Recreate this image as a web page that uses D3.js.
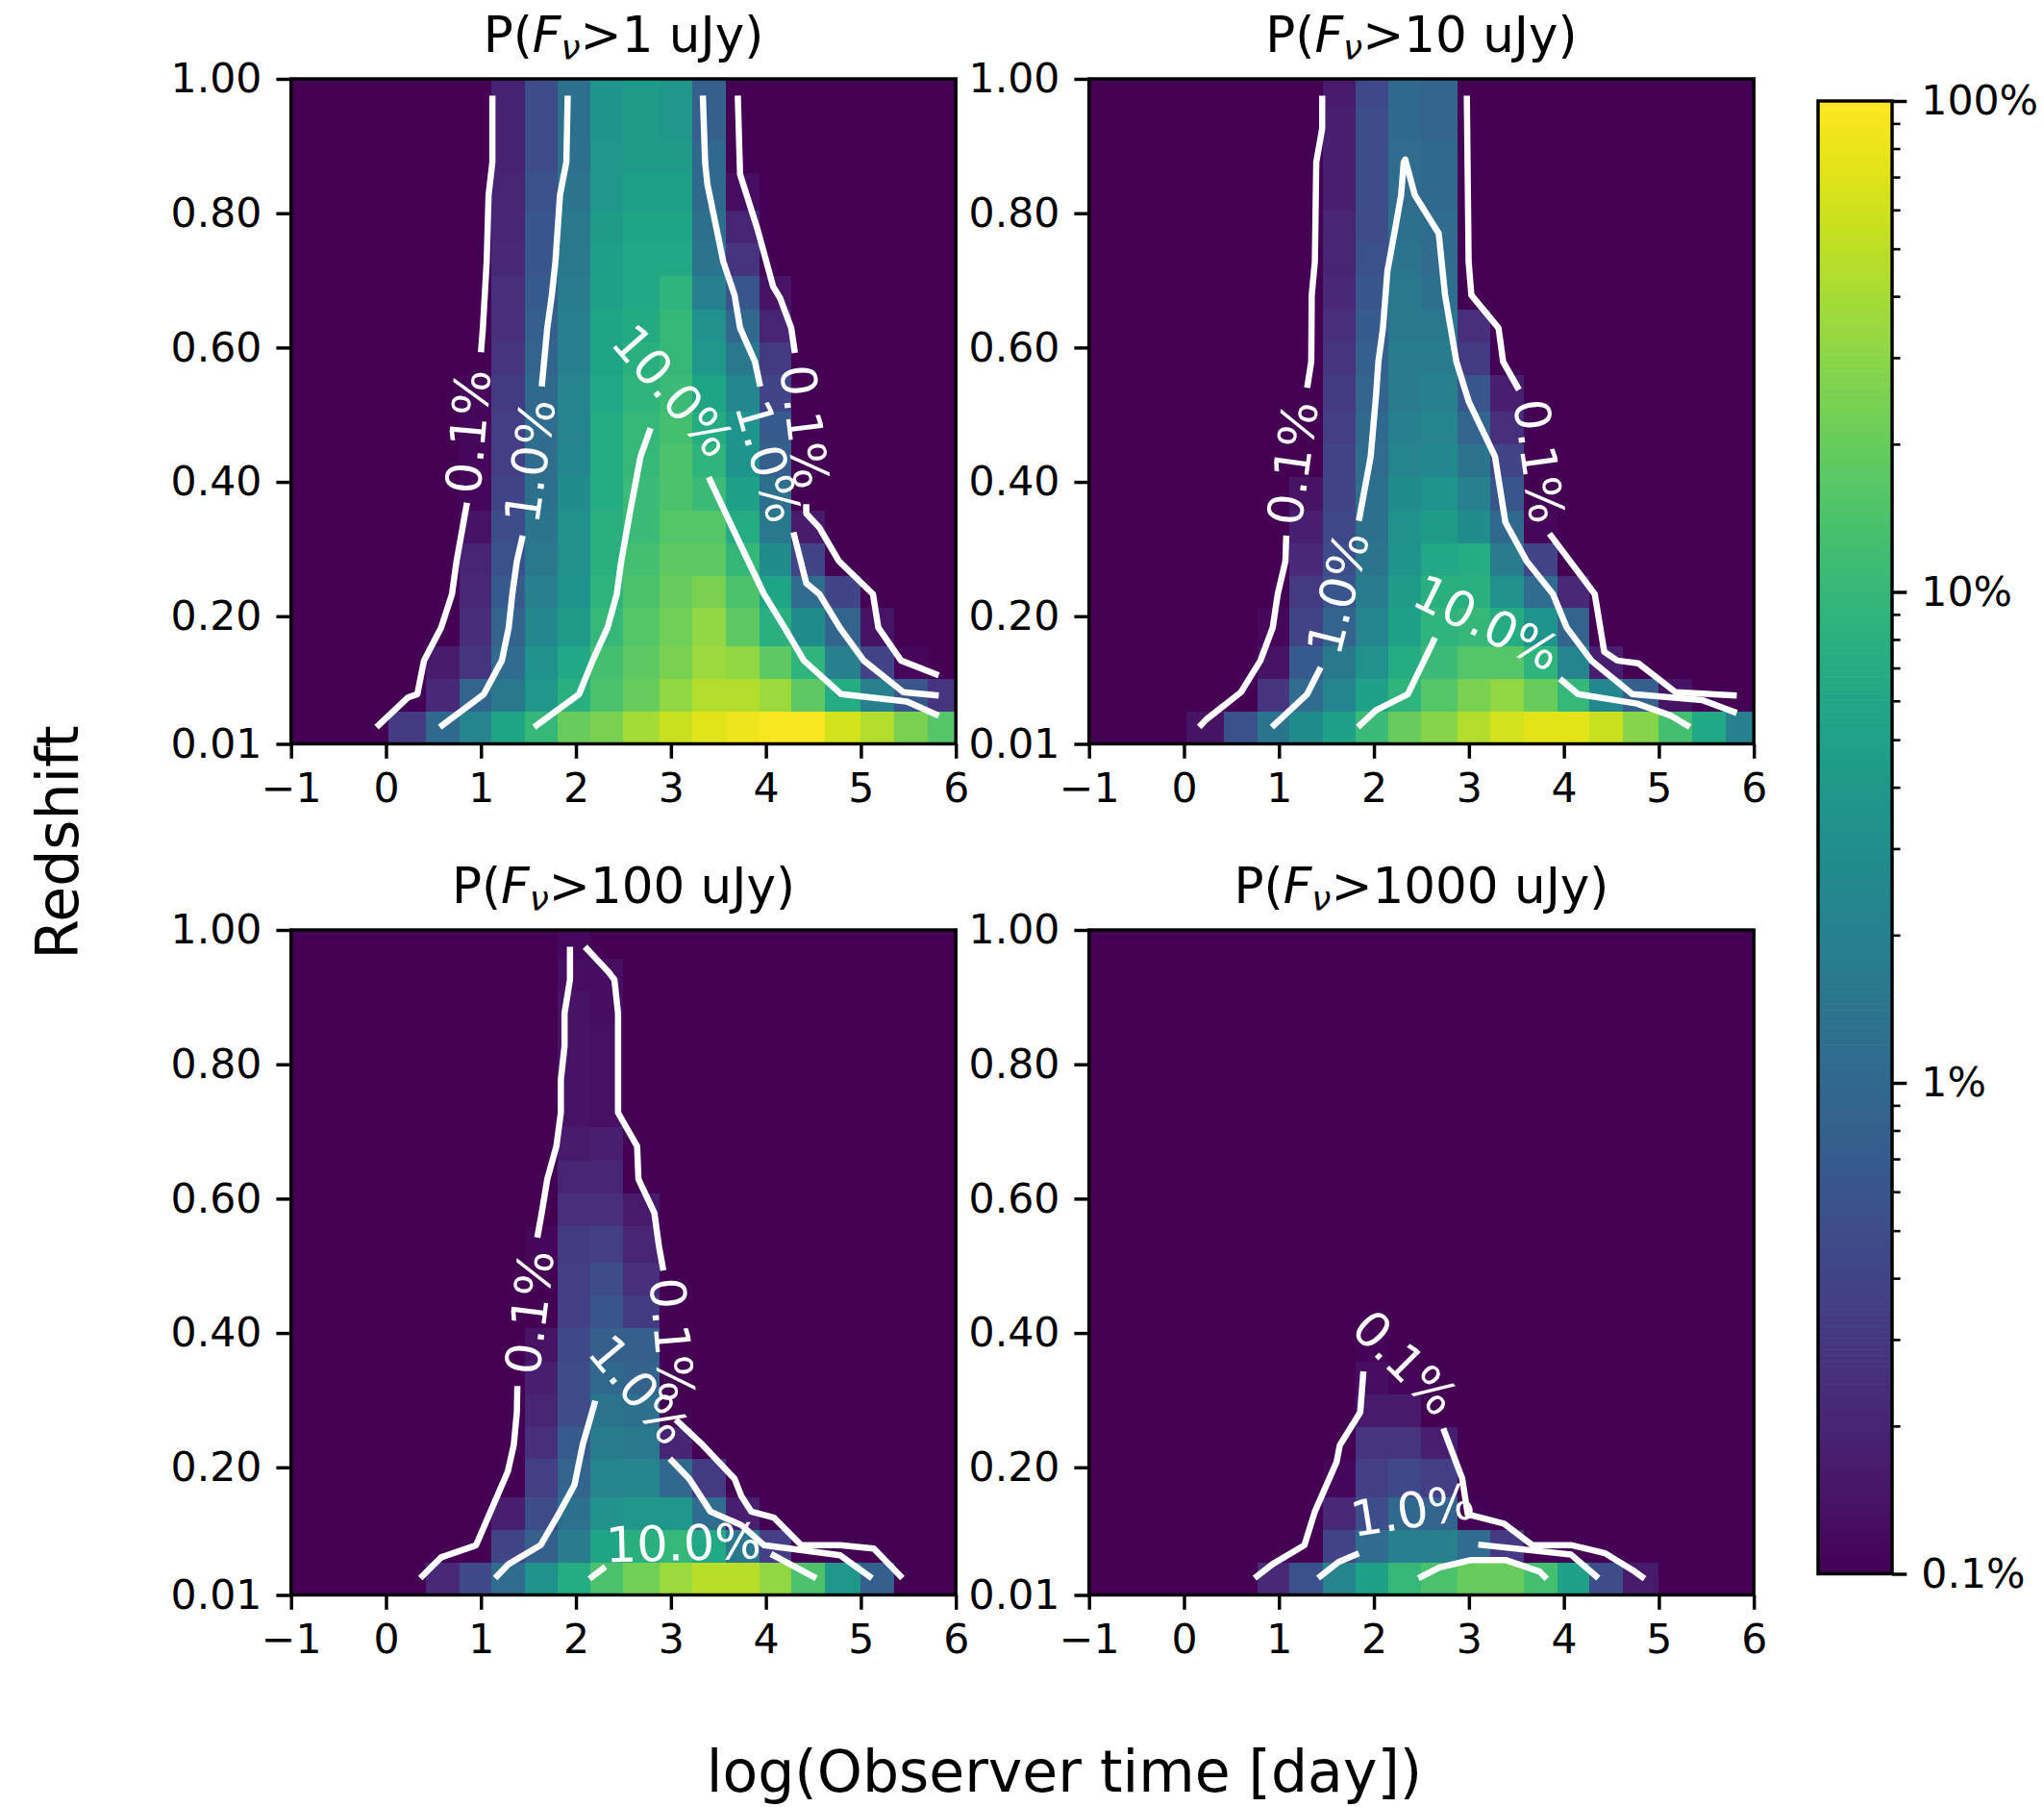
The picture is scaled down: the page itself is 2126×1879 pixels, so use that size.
<!DOCTYPE html>
<html>
<head>
<meta charset="utf-8">
<script src="https://cdn.jsdelivr.net/npm/d3@7"></script>
<style>
html, body { margin: 0; padding: 0; background: #fff; }
text { font-family: "DejaVu Sans", sans-serif; }
</style>
</head>
<body>
<svg width="2126" height="1879"></svg>
<script>
// bin edges of the grid, log time and redshift
var xEdges = [-1, -0.65, -0.3, 0.03, 0.42, 0.77, 1.11, 1.46, 1.81, 2.155, 2.5, 2.88, 3.225, 3.58, 3.93, 4.27, 4.62, 5.0, 5.35, 5.7, 6];
var zEdges = [0.01, 0.058, 0.107, 0.156, 0.212, 0.26, 0.308, 0.357, 0.407, 0.456, 0.505, 0.559, 0.608, 0.657, 0.706, 0.755, 0.804, 0.859, 0.908, 0.957, 1];

var fluxes = [1, 10, 100, 1000];
var xTicks = [-1, 0, 1, 2, 3, 4, 5, 6];
var zTicks = [0.01, 0.2, 0.4, 0.6, 0.8, 1];
var cbarTicks = [0.1, 1, 10, 100];

// log10 of probability in percent, bottom row first
// each row: first column index, then the values from that column on
var gridA = [
  [3, -0.5, 0, 0.35, 0.75, 1.0, 1.3, 1.4, 1.6, 1.75, 1.85, 1.92, 1.97, 1.97, 1.8, 1.65, 1.4, 1.2],
  [4, -0.65, -0.05, 0.2, 0.6, 0.9, 1.15, 1.3, 1.5, 1.65, 1.65, 1.55, 1.25, 0.85, 0.3, -0.2, -0.55],
  [4, -0.8, -0.55, 0.05, 0.5, 0.8, 1.1, 1.25, 1.4, 1.55, 1.5, 1.25, 0.95, 0.3, -0.4, -0.95],
  [5, -0.62, -0.05, 0.4, 0.65, 1.0, 1.2, 1.35, 1.5, 1.25, 0.9, 0.45, -0.05, -0.85],
  [5, -0.65, -0.15, 0.3, 0.55, 0.95, 1.15, 1.3, 1.4, 1.15, 0.75, 0.05, -0.4],
  [5, -0.7, -0.25, 0.2, 0.5, 0.9, 1.1, 1.25, 1.25, 1.0, 0.45, -0.4],
  [5, -0.85, -0.3, 0.15, 0.5, 0.9, 1.05, 1.2, 1.2, 0.85, 0.2, -0.8],
  [5, -0.95, -0.4, 0.1, 0.45, 0.85, 1.05, 1.15, 1.05, 0.7, 0.1],
  [5, -0.95, -0.45, 0.05, 0.4, 0.85, 1.0, 1.15, 0.95, 0.55, -0.1],
  [5, -0.95, -0.45, 0.05, 0.35, 0.85, 1.0, 1.1, 0.85, 0.55, -0.15],
  [5, -0.95, -0.5, 0, 0.35, 0.8, 0.95, 1.05, 0.75, 0.4, -0.4],
  [6, -0.55, -0.05, 0.3, 0.75, 0.9, 1.0, 0.6, 0.2, -0.5],
  [6, -0.6, -0.1, 0.3, 0.75, 0.82, 1.0, 0.5, 0, -0.7],
  [6, -0.6, -0.15, 0.25, 0.7, 0.8, 0.95, 0.3, -0.2, -0.85],
  [6, -0.65, -0.2, 0.2, 0.7, 0.8, 0.8, 0.15, -0.55],
  [6, -0.68, -0.2, 0.2, 0.65, 0.75, 0.75, 0.1, -0.7],
  [6, -0.7, -0.25, 0.15, 0.6, 0.7, 0.7, 0, -0.9],
  [6, -0.72, -0.3, 0.1, 0.6, 0.65, 0.65, 0],
  [6, -0.72, -0.3, 0.1, 0.55, 0.65, 0.6, -0.1],
  [6, -0.72, -0.3, 0.1, 0.55, 0.65, 0.6, -0.1]
];
var gridB = [
  [3, -0.85, -0.25, 0.15, 0.45, 0.7, 1.05, 1.3, 1.45, 1.65, 1.8, 1.87, 1.87, 1.75, 1.45, 1.1, 0.8, 0.3],
  [5, -0.55, 0.05, 0.35, 0.7, 0.95, 1.2, 1.4, 1.5, 1.3, 1.0, 0.4, -0.1, -0.85],
  [5, -0.85, -0.15, 0.2, 0.5, 0.85, 1.05, 1.2, 1.2, 0.95, 0.35, -0.75],
  [5, -0.95, -0.4, -0.05, 0.35, 0.7, 0.95, 1.0, 0.85, 0.55, -0.05],
  [6, -0.5, -0.2, 0.25, 0.65, 0.9, 0.9, 0.5, 0.05, -0.65],
  [6, -0.65, -0.3, 0.15, 0.55, 0.8, 0.85, 0.25, -0.4],
  [6, -0.75, -0.35, 0.1, 0.5, 0.65, 0.45, 0, -0.95],
  [6, -0.85, -0.4, 0.1, 0.45, 0.55, 0.3, -0.2],
  [7, -0.4, 0.05, 0.35, 0.4, 0.15, -0.4],
  [7, -0.45, 0, 0.3, 0.35, -0.05, -0.6],
  [7, -0.5, -0.05, 0.25, 0.3, -0.2, -0.75],
  [7, -0.55, -0.1, 0.25, 0.25, -0.5],
  [7, -0.6, -0.15, 0.2, 0.2, -0.6],
  [7, -0.65, -0.2, 0.2, 0.1],
  [7, -0.7, -0.25, 0.15, 0.05],
  [7, -0.7, -0.3, 0.1, 0.05],
  [7, -0.75, -0.3, 0.05, 0],
  [7, -0.75, -0.3, 0.05, 0],
  [7, -0.75, -0.3, 0, -0.05],
  [7, -0.8, -0.35, 0, -0.05]
];
var gridC = [
  [4, -0.65, -0.35, 0.05, 0.5, 0.85, 1.15, 1.35, 1.55, 1.68, 1.68, 1.5, 1.15, 0.6, -0.1],
  [6, -0.4, -0.1, 0.25, 0.75, 0.9, 1.0, 0.8, 0.2, -0.45],
  [6, -0.75, -0.3, 0.1, 0.5, 0.6, 0.6, 0.05, -0.75],
  [7, -0.45, -0.05, 0.35, 0.35, 0, -0.5],
  [7, -0.6, -0.15, 0.25, 0.2, -0.7],
  [7, -0.7, -0.3, 0.15, 0.1],
  [7, -0.75, -0.3, 0, -0.05],
  [7, -0.85, -0.35, -0.1, -0.1],
  [8, -0.45, -0.2, -0.5],
  [8, -0.45, -0.3, -0.6],
  [7, -0.95, -0.5, -0.45, -0.7],
  [8, -0.6, -0.6, -0.8],
  [8, -0.7, -0.7],
  [8, -0.8, -0.75],
  [8, -0.85, -0.88],
  [8, -0.85, -0.88],
  [8, -0.85, -0.88],
  [8, -0.85, -0.9],
  [8, -0.9, -0.9],
  [8, -0.93]
];
var gridD = [
  [5, -0.65, -0.25, 0.35, 0.7, 1.0, 1.15, 1.3, 1.3, 1.1, 0.7, -0.3, -0.8],
  [7, -0.4, 0.05, 0.3, 0.3, 0.05, -0.5],
  [7, -0.65, -0.3, 0, -0.05, -0.98],
  [7, -0.95, -0.45, -0.35, -0.45],
  [8, -0.55, -0.55, -0.75],
  [8, -0.8, -0.8],
  [8, -0.9, -0.97],
  [8, -0.97]
];

// contour pieces as [log time, redshift], broken where the labels sit
var linesA = [
  [[1.12, 0.975], [1.12, 0.876], [1.08, 0.827], [1.06, 0.728], [1.02, 0.629], [1.0, 0.593]],
  [[0.853, 0.369], [0.743, 0.282], [0.695, 0.233], [0.58, 0.183], [0.4, 0.134], [0.33, 0.084], [0.23, 0.079], [-0.1, 0.035]],
  [[1.913, 0.975], [1.899, 0.876], [1.832, 0.827], [1.784, 0.728], [1.746, 0.678], [1.698, 0.629], [1.64, 0.542]],
  [[1.44, 0.32], [1.378, 0.282], [1.33, 0.233], [1.292, 0.183], [1.22, 0.134], [1.03, 0.084], [0.566, 0.035]],
  [[2.787, 0.48], [2.68, 0.438], [2.572, 0.357], [2.477, 0.282], [2.43, 0.233], [2.333, 0.183], [2.176, 0.134], [2.033, 0.084], [1.56, 0.035]],
  [[3.398, 0.407], [3.647, 0.332], [3.814, 0.282], [3.98, 0.233], [4.196, 0.183], [4.4, 0.134], [4.793, 0.084], [5.485, 0.073], [5.82, 0.052]],
  [[3.336, 0.975], [3.36, 0.876], [3.384, 0.843], [3.551, 0.728], [3.67, 0.678], [3.728, 0.629], [3.885, 0.579], [3.94, 0.542]],
  [[4.29, 0.325], [4.425, 0.249], [4.563, 0.233], [4.778, 0.183], [5.03, 0.134], [5.447, 0.087], [5.82, 0.082]],
  [[3.704, 0.975], [3.728, 0.858], [3.91, 0.777], [4.076, 0.691], [4.148, 0.674], [4.267, 0.629], [4.305, 0.592]],
  [[4.425, 0.367], [4.425, 0.353], [4.563, 0.332], [4.769, 0.282], [5.127, 0.233], [5.184, 0.183], [5.423, 0.134], [5.82, 0.112]]
];
var linesB = [
  [[1.455, 0.975], [1.455, 0.926], [1.393, 0.876], [1.378, 0.728], [1.345, 0.678], [1.34, 0.579], [1.297, 0.54]],
  [[1.077, 0.32], [1.068, 0.282], [0.987, 0.233], [0.934, 0.183], [0.805, 0.134], [0.6, 0.087], [0.232, 0.046], [0.16, 0.035]],
  [[1.841, 0.342], [1.966, 0.438], [2.023, 0.53], [2.047, 0.579], [2.095, 0.629], [2.142, 0.714], [2.224, 0.777], [2.286, 0.827], [2.314, 0.876], [2.33, 0.88], [2.43, 0.827], [2.682, 0.77], [2.749, 0.678], [2.868, 0.579], [3.0, 0.519], [3.274, 0.438], [3.384, 0.34], [3.608, 0.282], [3.885, 0.233], [4.03, 0.183], [4.29, 0.134], [4.72, 0.084], [5.46, 0.075], [5.82, 0.056]],
  [[1.44, 0.124], [1.297, 0.084], [0.925, 0.035]],
  [[2.644, 0.168], [2.357, 0.084], [2.02, 0.06], [1.832, 0.035]],
  [[3.957, 0.107], [4.148, 0.084], [4.769, 0.07], [5.127, 0.052], [5.327, 0.035]],
  [[2.978, 0.975], [2.997, 0.728], [3.026, 0.678], [3.312, 0.629], [3.36, 0.579], [3.527, 0.537]],
  [[3.847, 0.323], [4.325, 0.233], [4.425, 0.147], [4.563, 0.134], [4.783, 0.13], [5.175, 0.087], [5.82, 0.082]]
];
var linesC = [
  [[1.937, 0.975], [1.937, 0.926], [1.88, 0.876], [1.88, 0.827], [1.841, 0.777], [1.841, 0.728], [1.794, 0.678], [1.698, 0.629], [1.64, 0.579], [1.593, 0.542]],
  [[1.383, 0.321], [1.378, 0.282], [1.345, 0.233], [1.283, 0.194], [0.948, 0.084], [0.581, 0.066], [0.361, 0.035]],
  [[2.095, 0.975], [2.333, 0.939], [2.405, 0.926], [2.443, 0.876], [2.443, 0.728], [2.644, 0.678], [2.658, 0.629], [2.825, 0.579], [2.873, 0.53], [2.92, 0.493]],
  [[3.05, 0.271], [3.336, 0.233], [3.67, 0.183], [3.742, 0.157], [3.847, 0.134], [4.086, 0.125], [4.372, 0.084], [4.783, 0.084], [5.136, 0.079], [5.437, 0.035]],
  [[2.204, 0.299], [2.07, 0.233], [1.985, 0.174], [1.832, 0.134], [1.627, 0.084], [1.292, 0.056], [1.149, 0.035]],
  [[2.988, 0.213], [3.193, 0.183], [3.417, 0.134], [3.742, 0.114], [3.981, 0.084], [4.783, 0.069], [5.117, 0.035]],
  [[2.31, 0.052], [2.142, 0.034]],
  [[4.053, 0.071], [4.53, 0.035]]
];
var linesD = [
  [[1.889, 0.343], [1.856, 0.282], [1.641, 0.233], [1.607, 0.208], [1.378, 0.134], [1.268, 0.084], [0.934, 0.056], [0.743, 0.035]],
  [[2.73, 0.258], [2.93, 0.183], [2.988, 0.13], [3.37, 0.116], [3.67, 0.084], [4.086, 0.084], [4.435, 0.072], [4.745, 0.045], [4.85, 0.034]],
  [[1.841, 0.072], [1.627, 0.059], [1.412, 0.035]],
  [[3.098, 0.085], [4.076, 0.07], [4.363, 0.035]],
  [[2.467, 0.035], [2.69, 0.051], [3.026, 0.062], [3.384, 0.062], [3.742, 0.045], [3.82, 0.034]]
];

// contour labels: text, log time, redshift, angle
var labelsA = [["0.1%", 0.862, 0.475, -85], ["1.0%", 1.512, 0.431, -82], ["10.0%", 3.026, 0.536, 49], ["0.1%", 4.41, 0.482, 83], ["1.0%", 4.03, 0.431, 74]];
var labelsB = [["0.1%", 1.14, 0.428, -82], ["1.0%", 1.617, 0.235, -76], ["10.0%", 3.193, 0.191, 26], ["0.1%", 3.742, 0.431, 82]];
var labelsC = [["0.1%", 1.507, 0.431, -83], ["0.1%", 3.016, 0.39, 85], ["1.0%", 2.668, 0.316, 50], ["10.0%", 3.13, 0.088, -1.5]];
var labelsD = [["0.1%", 2.333, 0.356, 45], ["1.0%", 2.405, 0.137, -9]];

var svg = d3.select("svg");
var pw = 691.5, ph = 691.5;
var lefts = [302.7, 1132.7], tops = [82, 967];
var tickLen = 15.3, tickPad = 15, tickW = 3.45;

var grids = [gridA, gridB, gridC, gridD];
var lines = [linesA, linesB, linesC, linesD];
var labels = [labelsA, labelsB, labelsC, labelsD];

var color = d3.scaleSequentialLog(d3.interpolateViridis).domain([0.1, 100]).clamp(true);
var x = d3.scaleLinear().domain([-1, 6]).range([0, pw]);
var y = d3.scaleLinear().domain([0.01, 1]).range([ph, 0]);
var line = d3.line().x(function(d) { return x(d[0]); }).y(function(d) { return y(d[1]); });

function styleAxis(g) {
    g.select(".domain").remove();
    g.selectAll(".tick line").attr("stroke", "#000").attr("stroke-width", tickW);
    g.selectAll(".tick text").attr("fill", "#000").style("font-size", "42.6px").style("font-family", "DejaVu Sans");
}

fluxes.forEach(function(flux, i) {
    var gp = svg.append("g")
        .attr("transform", "translate(" + lefts[i % 2] + "," + tops[Math.floor(i / 2)] + ")");

    gp.append("rect").attr("width", pw).attr("height", ph).attr("fill", color(0.1));

    grids[i].forEach(function(row, r) {
        var c0 = row[0];
        row.slice(1).forEach(function(v, k) {
            var c = c0 + k;
            gp.append("rect")
                .attr("x", x(xEdges[c]))
                .attr("y", y(zEdges[r + 1]))
                .attr("width", x(xEdges[c + 1]) - x(xEdges[c]))
                .attr("height", y(zEdges[r]) - y(zEdges[r + 1]))
                .attr("fill", color(Math.pow(10, v)))
                .attr("shape-rendering", "crispEdges");
        });
    });

    lines[i].forEach(function(l) {
        gp.append("path")
            .attr("d", line(l))
            .attr("fill", "none")
            .attr("stroke", "#fff")
            .attr("stroke-width", 6.5)
            .attr("stroke-linejoin", "round");
    });

    labels[i].forEach(function(l) {
        gp.append("text")
            .attr("transform", "translate(" + x(l[1]) + "," + y(l[2]) + ") rotate(" + l[3] + ")")
            .attr("text-anchor", "middle")
            .attr("dy", "0.36em")
            .attr("fill", "#fff")
            .style("font-size", "51px")
            .text(l[0]);
    });

    gp.append("g")
        .attr("transform", "translate(0," + ph + ")")
        .call(d3.axisBottom(x).tickValues(xTicks).tickSizeOuter(0).tickSize(tickLen).tickPadding(tickPad)
            .tickFormat(function(d) { return String(d).replace("-", "\u2212"); }))
        .call(styleAxis);

    gp.append("g")
        .call(d3.axisLeft(y).tickValues(zTicks).tickSizeOuter(0).tickSize(tickLen).tickPadding(tickPad)
            .tickFormat(d3.format(".2f")))
        .call(styleAxis);

    gp.append("rect").attr("width", pw).attr("height", ph)
        .attr("fill", "none").attr("stroke", "#000").attr("stroke-width", tickW);

    var title = gp.append("text")
        .attr("x", pw / 2).attr("y", -28.5)
        .attr("text-anchor", "middle")
        .attr("fill", "#000")
        .style("font-size", "51.5px");
    title.append("tspan").text("P(");
    title.append("tspan").style("font-style", "italic").text("F");
    title.append("tspan").style("font-style", "italic").style("font-size", "36px").attr("dy", 8).text("\u03bd");
    title.append("tspan").attr("dy", -8).text(">" + flux + " uJy)");
});

// colour bar
var cbX = 1891, cbW = 77, cbTop = 105, cbBottom = 1636.5;
var cb = d3.scaleLog().domain([0.1, 100]).range([cbBottom, cbTop]);
var gcb = svg.append("g");
var steps = d3.range(0, 256);
var cbV = d3.scaleLinear().domain([0, 256]).range([-1, 2]);
gcb.selectAll("rect").data(steps).enter().append("rect")
    .attr("x", cbX)
    .attr("width", cbW)
    .attr("y", function(d) { return cb(Math.pow(10, cbV(d + 1))); })
    .attr("height", function(d) { return cb(Math.pow(10, cbV(d))) - cb(Math.pow(10, cbV(d + 1))) + 0.6; })
    .attr("fill", function(d) { return color(Math.pow(10, cbV(d + 0.5))); });

var cbMinor = [];
cbarTicks.slice(0, 3).forEach(function(t) {
    d3.range(2, 10).forEach(function(m) { cbMinor.push(t * m); });
});

gcb.append("g")
    .attr("transform", "translate(" + (cbX + cbW) + ",0)")
    .call(d3.axisRight(cb).tickValues(cbMinor).tickSizeOuter(0).tickSize(8.6).tickFormat(""))
    .call(styleAxis)
    .selectAll(".tick line").attr("stroke-width", 2.6);

gcb.append("g")
    .attr("transform", "translate(" + (cbX + cbW) + ",0)")
    .call(d3.axisRight(cb).tickValues(cbarTicks).tickSizeOuter(0).tickSize(tickLen).tickPadding(tickPad)
        .tickFormat(function(d) { return d + "%"; }))
    .call(styleAxis);

gcb.append("rect")
    .attr("x", cbX).attr("y", cbTop).attr("width", cbW).attr("height", cbBottom - cbTop)
    .attr("fill", "none").attr("stroke", "#000").attr("stroke-width", tickW);

// shared axis titles
svg.append("text")
    .attr("transform", "translate(59,876) rotate(-90)")
    .attr("text-anchor", "middle")
    .attr("dy", "0.36em")
    .attr("fill", "#000")
    .style("font-size", "60px")
    .text("Redshift");

svg.append("text")
    .attr("x", 1107).attr("y", 1863)
    .attr("text-anchor", "middle")
    .attr("fill", "#000")
    .style("font-size", "60px")
    .text("log(Observer time [day])");
</script>
</body>
</html>
